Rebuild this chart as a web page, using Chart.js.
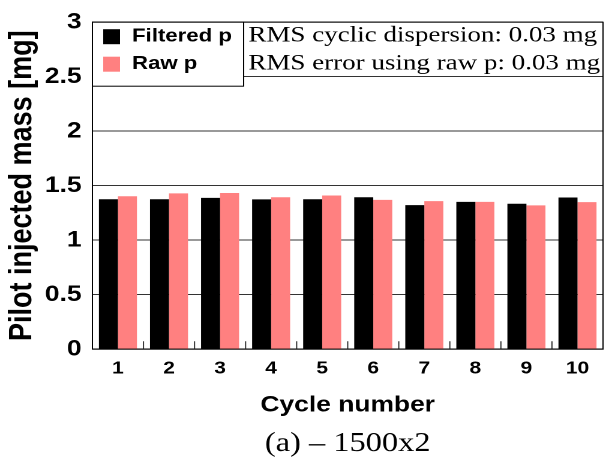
<!DOCTYPE html>
<html>
<head>
<meta charset="utf-8">
<script src="https://cdn.jsdelivr.net/npm/chart.js@4/dist/chart.umd.min.js"></script>
<style>
  body { margin: 0; background: #fff; }
  /* the figure is drawn a bit narrow and widened afterwards */
  #wrap { width: 505px; height: 462px; transform: scaleX(1.2); transform-origin: 0 0; }
</style>
</head>
<body>
<div id="wrap"><canvas id="massChart" width="505" height="462"></canvas></div>
<script>
// cycle numbers and injected mass per cycle [mg]
const cycles = ['1', '2', '3', '4', '5', '6', '7', '8', '9', '10'];
const filteredP = [1.376, 1.376, 1.388, 1.374, 1.376, 1.394, 1.322, 1.352, 1.334, 1.392];
const rawP = [1.403, 1.430, 1.433, 1.394, 1.410, 1.370, 1.358, 1.352, 1.319, 1.349];
const yTicks = [0, 0.5, 1, 1.5, 2, 2.5, 3];
const notes = ['RMS cyclic dispersion: 0.03 mg', 'RMS error using raw p: 0.03 mg'];

const SANS = "'Liberation Sans', Arial, sans-serif";
const SERIF = "'Liberation Serif', 'Times New Roman', serif";

Chart.defaults.color = '#000';

// frame around the plot plus short tick marks between the cycles
const framePlugin = {
  id: 'frame',
  afterDatasetsDraw(chart) {
    const { ctx, chartArea: a } = chart;
    const x = chart.scales.x;
    ctx.save();
    ctx.strokeStyle = '#333';
    ctx.lineWidth = 1;
    ctx.beginPath();
    for (let i = 1; i < cycles.length; i++) {
      const px = (x.getPixelForTick(i - 1) + x.getPixelForTick(i)) / 2;
      ctx.moveTo(px, a.bottom);
      ctx.lineTo(px, a.bottom - 8);
    }
    ctx.stroke();
    ctx.strokeStyle = '#000';
    ctx.strokeRect(a.left, a.top, a.right - a.left, a.bottom - a.top);
    ctx.restore();
  }
};

// boxed legend in the upper-left corner and the RMS notes beside it
const legendBoxPlugin = {
  id: 'legendBox',
  afterDraw(chart) {
    const { ctx, chartArea: a } = chart;
    ctx.save();
    ctx.fillStyle = '#fff';
    ctx.fillRect(a.left, a.top, 126, 64);
    ctx.strokeStyle = '#000';
    ctx.lineWidth = 1;
    ctx.strokeRect(a.left, a.top, 126, 64);

    ctx.textBaseline = 'middle';
    ctx.textAlign = 'left';
    chart.data.datasets.forEach((ds, i) => {
      const cy = a.top + 14 + i * 27.5;
      ctx.fillStyle = ds.backgroundColor;
      ctx.fillRect(a.left + 9, cy - 7, 14, 15);
      ctx.fillStyle = '#000';
      ctx.font = 'bold 18.5px ' + SANS;
      ctx.fillText(ds.label, a.left + 33, cy);
    });

    ctx.font = '22.5px ' + SERIF;
    notes.forEach((t, i) => {
      ctx.fillText(t, a.left + 130, a.top + 13.5 + i * 28);
    });
    ctx.restore();
  }
};

new Chart(document.getElementById('massChart'), {
  type: 'bar',
  data: {
    labels: cycles,
    datasets: [
      { label: 'Filtered p', data: filteredP, backgroundColor: '#000000' },
      { label: 'Raw p', data: rawP, backgroundColor: '#ff8080' }
    ]
  },
  options: {
    responsive: false,
    animation: false,
    devicePixelRatio: 2,
    layout: { padding: { top: 15, right: 2.5, left: 0, bottom: 0 } },
    datasets: {
      bar: { barPercentage: 1.0, categoryPercentage: 0.745, borderWidth: 0 }
    },
    plugins: {
      legend: { display: false },
      tooltip: { enabled: false },
      title: {
        display: true,
        position: 'bottom',
        fullSize: false,
        text: '(a) – 1500x2',
        color: '#000',
        font: { family: SERIF, size: 27, weight: 'normal' },
        padding: { top: 0, bottom: 2 }
      }
    },
    scales: {
      x: {
        grid: { display: false, drawTicks: false },
        border: { display: true, color: '#000' },
        ticks: { padding: 9, font: { family: SANS, size: 17.5, weight: 'bold' } },
        title: {
          display: true,
          text: 'Cycle number',
          font: { family: SANS, size: 22, weight: 'bold' },
          padding: { top: 4, bottom: 9 }
        }
      },
      y: {
        min: 0,
        max: 3,
        z: 1,
        afterBuildTicks: s => { s.ticks = yTicks.map(v => ({ value: v })); },
        afterFit: s => { s.width = 77; },
        grid: { color: '#333', drawTicks: false },
        border: { display: true, color: '#000' },
        ticks: {
          padding: 9,
          font: { family: SANS, size: 22, weight: 'bold' },
          callback: v => String(v)
        },
        title: {
          display: true,
          text: 'Pilot injected mass [mg]',
          font: { family: SANS, size: 27, weight: 'bold' },
          padding: { top: 2.5, bottom: 0 }
        }
      }
    }
  },
  plugins: [framePlugin, legendBoxPlugin]
});
</script>
</body>
</html>
